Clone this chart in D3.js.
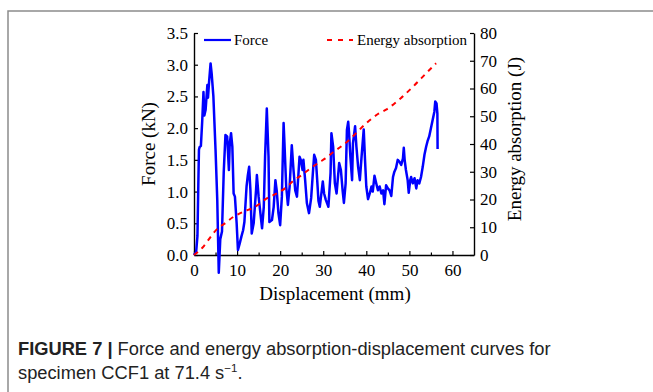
<!DOCTYPE html>
<html>
<head>
<meta charset="utf-8">
<script src="https://cdn.jsdelivr.net/npm/d3@7"></script>
<style>
  body { margin: 0; background: #fff; }
  svg { display: block; }
</style>
</head>
<body>
<svg id="chart" width="653" height="392"></svg>
<script>
// force trace (displacement mm / force kN)
const forceDisp = [0, 0.5, 0.8, 1.0, 1.15, 1.3, 1.6, 1.9, 2.2, 2.4, 2.7, 3.1, 3.25, 3.5, 3.85, 4.1, 4.5, 5.0, 5.4, 5.75,
  6.1, 6.5, 6.9, 7.3, 7.7, 8.1, 8.3, 8.6, 8.9, 9.2, 9.5, 9.9, 10.2, 10.6, 11.0, 11.4, 11.7, 12.2, 12.5, 12.8,
  13.1, 13.4, 13.85, 14.4, 14.6, 15.0, 15.8, 16.2, 16.5, 16.9, 17.3, 17.5, 18.1, 18.5, 18.9, 19.2, 19.6, 20.0, 20.4, 20.8,
  21.0, 21.4, 21.8, 22.2, 22.7, 23.1, 23.5, 23.9, 24.2, 24.5, 24.8, 25.2, 25.4, 25.8, 26.2, 26.7, 27.2, 27.6, 27.9, 28.3,
  28.6, 28.9, 29.2, 29.9, 30.2, 30.6, 31.2, 31.7, 31.9, 32.3, 32.7, 33.1, 33.7, 34.1, 34.5, 34.8, 35.2, 35.5, 35.8, 36.0,
  36.3, 36.7, 36.9, 37.4, 37.7, 38.1, 38.5, 38.9, 39.4, 39.7, 40.0, 40.4, 40.8, 41.2, 41.5, 41.9, 42.3, 42.7, 43.1, 43.5,
  43.9, 44.2, 44.6, 45.0, 45.4, 45.8, 46.2, 46.5, 46.9, 47.3, 47.7, 48.1, 48.5, 48.7, 48.9, 49.2, 49.6, 49.85, 50.2, 50.4,
  50.8, 51.2, 51.6, 51.9, 52.3, 52.7, 53.1, 53.5, 53.9, 54.2, 54.6, 55.0, 55.4, 55.8, 56.0, 56.3, 56.5, 56.55];
const forceKN = [0, 0.05, 0.3, 1.1, 1.66, 1.7, 1.72, 2.1, 2.57, 2.2, 2.29, 2.68, 2.48, 2.73, 3.02, 2.86, 2.5, 1.66, 0.87, -0.28,
  0.25, 0.37, 1.3, 1.89, 1.87, 1.34, 1.76, 1.92, 1.71, 0.97, 0.92, 0.5, 0.08, 0.18, 0.29, 0.39, 0.52, 1.08, 1.26, 1.39,
  1.02, 0.34, 0.5, 1.02, 1.26, 0.92, 0.42, 0.76, 1.55, 2.31, 1.55, 0.52, 0.55, 0.76, 1.18, 1.02, 0.66, 0.47, 0.92, 2.08,
  1.76, 1.08, 0.79, 1.08, 1.73, 1.34, 1.02, 0.92, 1.23, 1.55, 1.5, 1.34, 1.5, 1.18, 0.82, 0.66, 0.9, 1.3, 1.58, 1.5,
  1.18, 0.85, 0.76, 1.16, 0.97, 0.87, 0.76, 1.29, 1.92, 1.71, 1.13, 0.97, 1.45, 1.34, 1.02, 0.82, 1.13, 1.97, 2.1, 1.92,
  1.55, 1.18, 1.76, 2.03, 1.71, 1.39, 1.18, 1.55, 1.98, 1.5, 1.08, 0.88, 0.97, 1.08, 1.0, 1.25, 1.13, 1.02, 1.08, 0.97,
  1.02, 0.8, 1.1, 1.05, 1.02, 0.93, 1.23, 1.31, 1.37, 1.5, 1.47, 1.42, 1.52, 1.69, 1.5, 1.34, 1.18, 0.98, 1.18, 1.23,
  1.13, 1.21, 1.05, 1.18, 1.13, 1.23, 1.39, 1.58, 1.71, 1.79, 1.87, 2.0, 2.13, 2.26, 2.42, 2.39, 2.23, 1.67];

// energy absorption (J)
const energyDisp = [0, 2, 4, 5.5, 7, 9, 11.5, 14, 17, 19.6, 21.6, 23, 25, 27, 29, 30.5, 32.3, 34.3, 36.2, 38, 40, 42.7, 44.7, 48, 50.8, 53.9, 56.2];
const energyJ = [0, 2.7, 6.8, 9.6, 11.2, 13.6, 15.6, 17.2, 20.5, 22.5, 24.6, 26.7, 28.8, 31.2, 33.3, 34.8, 37, 39.3, 41.7, 44.5, 47.5, 50.8, 52.5, 56.5, 60.6, 65.5, 69.1];

const xTicks = [0, 10, 20, 30, 40, 50, 60];
const xMinorTicks = [5, 15, 25, 35, 45, 55];
const forceTicks = [0, 0.5, 1.0, 1.5, 2.0, 2.5, 3.0, 3.5];
const energyTicks = [0, 10, 20, 30, 40, 50, 60, 70, 80];

const svg = d3.select('#chart');
const serif = '"Liberation Serif", "Times New Roman", serif';

// frame round the figure
svg.append('path')
  .attr('d', 'M8,392V11H653')
  .attr('fill', 'none')
  .attr('stroke', '#8c8c8c')
  .attr('stroke-width', 1.5);

const plotL = 194, plotR = 474, plotT = 33, plotB = 255;

const x = d3.scaleLinear().domain([0, 65]).range([plotL, plotR]);
const yF = d3.scaleLinear().domain([0, 3.5]).range([plotB, plotT]);
const yE = d3.scaleLinear().domain([0, 80]).range([plotB, plotT]);

function styleAxis(g) {
  g.selectAll('path').attr('stroke', '#000').attr('stroke-width', 1.4);
  g.selectAll('line').attr('stroke', '#000').attr('stroke-width', 1.2);
  g.selectAll('text').attr('font-family', serif).attr('font-size', 17).attr('fill', '#000');
}

// minor ticks on x
svg.append('g')
  .attr('transform', `translate(0,${plotB})`)
  .call(d3.axisBottom(x).tickValues(xMinorTicks).tickSizeInner(-2.5).tickSizeOuter(0).tickFormat(''))
  .call(g => g.select('.domain').remove())
  .call(styleAxis);

svg.append('g')
  .attr('transform', `translate(0,${plotB})`)
  .call(d3.axisBottom(x).tickValues(xTicks).tickSizeInner(-4).tickSizeOuter(0).tickPadding(9))
  .call(styleAxis);

svg.append('g')
  .attr('transform', `translate(${plotL},0)`)
  .call(d3.axisLeft(yF).tickValues(forceTicks).tickSizeInner(-4).tickSizeOuter(0).tickPadding(6).tickFormat(d3.format('.1f')))
  .call(styleAxis);

svg.append('g')
  .attr('transform', `translate(${plotR},0)`)
  .call(d3.axisRight(yE).tickValues(energyTicks).tickSizeInner(-4).tickSizeOuter(0).tickPadding(6))
  .call(styleAxis);

// axis titles
svg.append('text')
  .attr('x', (plotL + plotR) / 2 + 1).attr('y', 300)
  .attr('text-anchor', 'middle')
  .attr('font-family', serif).attr('font-size', 19)
  .text('Displacement (mm)');

svg.append('text')
  .attr('transform', `translate(155,${(plotT + plotB) / 2}) rotate(-90)`)
  .attr('text-anchor', 'middle')
  .attr('font-family', serif).attr('font-size', 19)
  .text('Force (kN)');

svg.append('text')
  .attr('transform', `translate(521,139) rotate(-90)`)
  .attr('text-anchor', 'middle')
  .attr('font-family', serif).attr('font-size', 19)
  .text('Energy absorption (J)');

// curves
const forceData = forceDisp.map((d, i) => ({ d: d, v: forceKN[i] }));
const energyData = energyDisp.map((d, i) => ({ d: d, v: energyJ[i] }));

svg.append('path')
  .datum(forceData)
  .attr('fill', 'none')
  .attr('stroke', '#0000ff')
  .attr('stroke-width', 2.5)
  .attr('stroke-linejoin', 'round')
  .attr('d', d3.line().x(p => x(p.d)).y(p => yF(p.v)));

svg.append('path')
  .datum(energyData)
  .attr('fill', 'none')
  .attr('stroke', '#ff0000')
  .attr('stroke-width', 2)
  .attr('stroke-dasharray', '5,5')
  .attr('d', d3.line().curve(d3.curveMonotoneX).x(p => x(p.d)).y(p => yE(p.v)));

// legend
const legend = svg.append('g');
legend.append('line')
  .attr('x1', 204).attr('x2', 231).attr('y1', 40).attr('y2', 40)
  .attr('stroke', '#0000ff').attr('stroke-width', 2.2);
legend.append('text')
  .attr('x', 234).attr('y', 45)
  .attr('font-family', serif).attr('font-size', 15)
  .text('Force');
legend.append('line')
  .attr('x1', 327).attr('x2', 353).attr('y1', 40).attr('y2', 40)
  .attr('stroke', '#ff0000').attr('stroke-width', 2).attr('stroke-dasharray', '5,6');
legend.append('text')
  .attr('x', 357).attr('y', 45)
  .attr('font-family', serif).attr('font-size', 15)
  .text('Energy absorption');

// caption
const sans = '"Liberation Sans", Arial, sans-serif';
const cap1 = svg.append('text')
  .attr('x', 18).attr('y', 355)
  .attr('font-family', sans).attr('font-size', 18.3).attr('fill', '#222');
cap1.append('tspan').attr('font-weight', 'bold').text('FIGURE 7 | ');
cap1.append('tspan').text('Force and energy absorption-displacement curves for');

const cap2 = svg.append('text')
  .attr('x', 18).attr('y', 379)
  .attr('font-family', sans).attr('font-size', 18.3).attr('fill', '#222');
cap2.append('tspan').text('specimen CCF1 at 71.4 s');
cap2.append('tspan').attr('font-size', 11.5).attr('dy', -7).text('\u22121');
cap2.append('tspan').attr('dy', 7).text('.');
</script>
</body>
</html>
